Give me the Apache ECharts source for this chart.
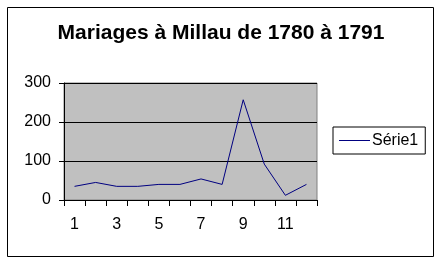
<!DOCTYPE html>
<html>
<head>
<meta charset="utf-8">
<script src="https://cdn.jsdelivr.net/npm/echarts@6/dist/echarts.min.js"></script>
<style>
html,body{margin:0;padding:0;background:#fff;}
#c{width:442px;height:263px;}
</style>
</head>
<body>
<div id="c"></div>
<script>
var titleText = 'Mariages à Millau de 1780 à 1791';
var categories = ['1','2','3','4','5','6','7','8','9','10','11','12'];
var seriesName = 'Série1';
var values = [35, 45, 35, 35, 40, 40, 54, 40, 257, 92, 12, 40];
var yTicks = [0, 100, 200, 300];

var chart = echarts.init(document.getElementById('c'), null, {renderer: 'canvas'});
var font = 'Arial, "Liberation Sans", sans-serif';
chart.setOption({
  animation: false,
  backgroundColor: '#ffffff',
  title: {
    text: titleText,
    left: 'center',
    top: 18,
    textStyle: {fontFamily: font, fontSize: 21, fontWeight: 'bold', color: '#000'}
  },
  graphic: [{
    type: 'rect',
    shape: {x: 7.5, y: 7.5, width: 426, height: 249},
    style: {fill: 'none', stroke: '#000', lineWidth: 1},
    silent: true
  }],
  legend: {
    left: 333,
    top: 127,
    orient: 'vertical',
    padding: [5, 7, 5, 6],
    borderColor: '#000',
    borderWidth: 1,
    icon: 'rect',
    itemWidth: 31,
    itemHeight: 1,
    itemGap: 0,
    textStyle: {fontFamily: font, fontSize: 16, color: '#000', lineHeight: 17, padding: [0, 0, 0, -3]},
    data: [seriesName]
  },
  grid: {
    left: 64,
    right: 125,
    top: 83,
    bottom: 63,
    show: true,
    backgroundColor: '#C0C0C0',
    borderColor: '#808080',
    borderWidth: 1,
    containLabel: false
  },
  xAxis: {
    type: 'category',
    data: categories,
    boundaryGap: true,
    axisLine: {lineStyle: {color: '#000', width: 1}},
    axisTick: {show: true, interval: 0, length: 6, inside: false, lineStyle: {color: '#000'}},
    axisLabel: {interval: 1, margin: 17, fontFamily: font, fontSize: 16, color: '#000'},
    splitLine: {show: false}
  },
  yAxis: {
    type: 'value',
    min: yTicks[0],
    max: yTicks[yTicks.length - 1],
    interval: 100,
    axisLine: {show: true, lineStyle: {color: '#000', width: 1}},
    axisTick: {show: true, length: 5, lineStyle: {color: '#000'}},
    axisLabel: {margin: 13, fontFamily: font, fontSize: 16, color: '#000'},
    splitLine: {show: true, lineStyle: {color: '#000', width: 1, type: 'solid'}}
  },
  series: [{
    name: seriesName,
    type: 'line',
    data: values,
    symbol: 'none',
    lineStyle: {color: '#000080', width: 1},
    itemStyle: {color: '#000080'}
  }]
});
</script>
</body>
</html>
